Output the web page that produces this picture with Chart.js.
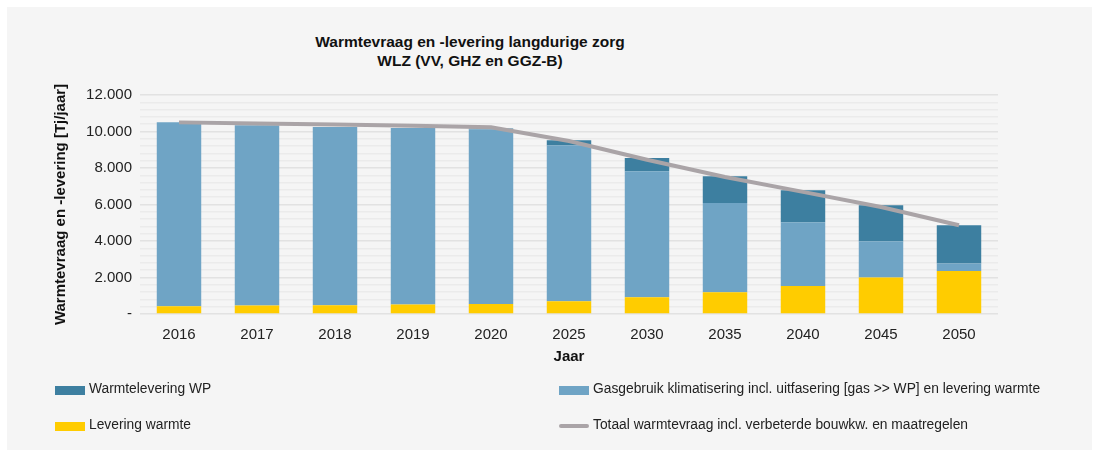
<!DOCTYPE html>
<html>
<head>
<meta charset="utf-8">
<script src="https://cdn.jsdelivr.net/npm/chart.js@4"></script>
<style>
  html, body { margin: 0; padding: 0; background: #fff; }
  #wrap { position: relative; width: 1099px; height: 450px; }
  #panel { position: absolute; left: 7px; top: 7px; width: 1085px; height: 443px; background: #f5f5f5; }
  canvas { position: absolute; left: 0; top: 0; }
  .title { position: absolute; left: 270px; width: 400px; text-align: center; font: bold 15.5px "Liberation Sans", Arial, sans-serif; color: #111; }
  .leg { position: absolute; font: 13.8px "Liberation Sans", Arial, sans-serif; color: #222; white-space: nowrap; }
  .leg i { position: absolute; left: -34px; top: 5px; width: 30px; height: 9px; }
  .leg i.line { height: 4px; top: 7px; border-radius: 2px; }
</style>
</head>
<body>
<div id="wrap">
  <div id="panel"></div>
  <div class="title" style="top:33px">Warmtevraag en -levering langdurige zorg</div>
  <div class="title" style="top:52px">WLZ (VV, GHZ en GGZ-B)</div>
  <canvas id="myChart" width="1099" height="450"></canvas>
  <div id="legend"></div>
</div>
<script>
// data (TJ/jaar)
const years = ['2016', '2017', '2018', '2019', '2020', '2025', '2030', '2035', '2040', '2045', '2050'];
const leveringWarmte = [420, 460, 475, 515, 550, 700, 915, 1190, 1535, 1995, 2355];
const gasgebruik = [10084, 9880, 9775, 9675, 9580, 8548, 6905, 4894, 3491, 1990, 406];
const warmteleveringWP = [0, 0, 0, 0, 30, 274, 730, 1462, 1753, 1972, 2098];
const totaalVraag = [10500, 10440, 10380, 10320, 10230, 9480, 8450, 7510, 6690, 5860, 4860];
const yTicks = [0, 2000, 4000, 6000, 8000, 10000, 12000];

const FONT = '"Liberation Sans", Arial, sans-serif';

const datasets = [
  { type: 'bar', label: 'Levering warmte', data: leveringWarmte, backgroundColor: '#ffcc00', order: 2 },
  { type: 'bar', label: 'Gasgebruik klimatisering incl. uitfasering [gas >> WP] en levering warmte', data: gasgebruik, backgroundColor: '#6fa4c5', order: 2 },
  { type: 'bar', label: 'Warmtelevering WP', data: warmteleveringWP, backgroundColor: '#3d7fa0', order: 2 },
  { type: 'line', label: 'Totaal warmtevraag incl. verbeterde bouwkw. en maatregelen', data: totaalVraag,
    borderColor: '#aaa4a7', borderWidth: 4, pointRadius: 0, tension: 0, stack: 'line', order: 1 }
];

const ctx = document.getElementById('myChart').getContext('2d');
const myChart = new Chart(ctx, {
  data: { labels: years, datasets: datasets },
  options: {
    responsive: false,
    animation: false,
    layout: { padding: { left: 52, right: 101, top: 95, bottom: 86 } },
    datasets: { bar: { categoryPercentage: 1, barPercentage: 0.57, stack: 'bars' } },
    plugins: { legend: { display: false }, tooltip: { enabled: false } },
    scales: {
      x: {
        stacked: true,
        grid: { display: false },
        border: { display: false },
        ticks: { color: '#222', font: { family: FONT, size: 15 }, padding: 4 },
        title: { display: true, text: 'Jaar', color: '#111', font: { family: FONT, size: 15, weight: 'bold' }, padding: { top: 0, bottom: -2 } },
        afterFit: (s) => { s.height = 50; }
      },
      y: {
        stacked: true,
        min: 0, max: 12000,
        afterBuildTicks: (s) => {
          const t = [];
          for (let v = 0; v <= 12000; v += 400) t.push({ value: v });
          s.ticks = t;
        },
        ticks: {
          autoSkip: false,
          color: '#222', font: { family: FONT, size: 15 }, padding: 8,
          callback: (v) => {
            if (!yTicks.includes(v)) return '';
            return v === 0 ? '-' : v.toLocaleString('de-DE');
          }
        },
        grid: {
          color: (c) => (c.tick && c.tick.value % 2000 === 0) ? '#e2e2e2' : '#ebebeb',
          lineWidth: 1.5,
          drawTicks: false
        },
        border: { display: false },
        title: { display: true, text: 'Warmtevraag en -levering [Tj/jaar]', color: '#111', font: { family: FONT, size: 15, weight: 'bold' }, padding: 0 },
        afterFit: (s) => { s.width = 88; }
      }
    }
  }
});

// legend in two columns, like the original
const legendPos = [
  { ds: 2, x: 89, y: 381 },
  { ds: 1, x: 593, y: 381 },
  { ds: 0, x: 89, y: 417 },
  { ds: 3, x: 593, y: 417 }
];
const legendEl = document.getElementById('legend');
legendPos.forEach((p) => {
  const d = datasets[p.ds];
  const div = document.createElement('div');
  div.className = 'leg';
  div.style.left = p.x + 'px';
  div.style.top = p.y + 'px';
  const box = document.createElement('i');
  if (d.type === 'line') { box.className = 'line'; box.style.background = d.borderColor; }
  else box.style.background = d.backgroundColor;
  div.appendChild(box);
  div.appendChild(document.createTextNode(d.label));
  legendEl.appendChild(div);
});
</script>
</body>
</html>
